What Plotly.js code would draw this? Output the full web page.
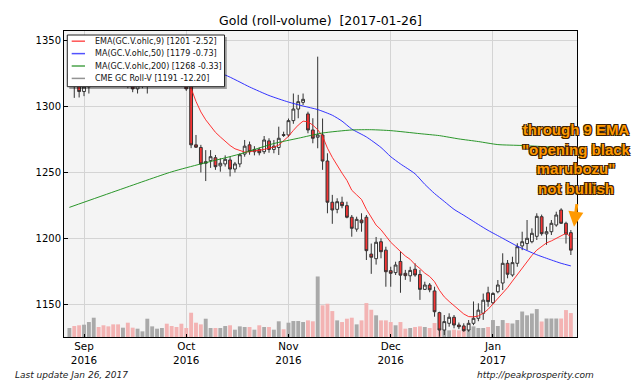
<!DOCTYPE html>
<html>
<head>
<meta charset="utf-8">
<script src="https://cdn.plot.ly/plotly-3.0.1.min.js"></script>
<style>html,body{margin:0;padding:0;background:#fff;}#chart{width:640px;height:384px;}</style>
</head>
<body>
<div id="chart"></div>
<script>
// ---- DATA ----
const dates = [
'2016-08-29','2016-08-30','2016-08-31',
'2016-09-01','2016-09-02','2016-09-06','2016-09-07','2016-09-08','2016-09-09','2016-09-12','2016-09-13','2016-09-14','2016-09-15','2016-09-16','2016-09-19','2016-09-20','2016-09-21','2016-09-22','2016-09-23','2016-09-26','2016-09-27','2016-09-28','2016-09-29','2016-09-30',
'2016-10-03','2016-10-04','2016-10-05','2016-10-06','2016-10-07','2016-10-10','2016-10-11','2016-10-12','2016-10-13','2016-10-14','2016-10-17','2016-10-18','2016-10-19','2016-10-20','2016-10-21','2016-10-24','2016-10-25','2016-10-26','2016-10-27','2016-10-28','2016-10-31',
'2016-11-01','2016-11-02','2016-11-03','2016-11-04','2016-11-07','2016-11-08','2016-11-09','2016-11-10','2016-11-11','2016-11-14','2016-11-15','2016-11-16','2016-11-17','2016-11-18','2016-11-21','2016-11-22','2016-11-23','2016-11-25','2016-11-28','2016-11-29','2016-11-30',
'2016-12-01','2016-12-02','2016-12-05','2016-12-06','2016-12-07','2016-12-08','2016-12-09','2016-12-12','2016-12-13','2016-12-14','2016-12-15','2016-12-16','2016-12-19','2016-12-20','2016-12-21','2016-12-22','2016-12-23','2016-12-27','2016-12-28','2016-12-29','2016-12-30',
'2017-01-03','2017-01-04','2017-01-05','2017-01-06','2017-01-09','2017-01-10','2017-01-11','2017-01-12','2017-01-13','2017-01-17','2017-01-18','2017-01-19','2017-01-20','2017-01-23','2017-01-24','2017-01-25','2017-01-26'
];
const open = [1321,1325,1316,1311.5,1315,1327,1349,1345,1338,1334,1328,1323,1327,1318,1313.5,1317,1319,1332,1338,1340,1341.5,1327,1322,1320,1317,
1315.5,1271,1269,1257,1259,1261.2,1255,1256.5,1259.5,1252.6,1256.5,1264,1271,1265.8,1267.5,1265.8,1274,1267.5,1269,1278.8,
1278.5,1289.4,1298.2,1303.3,1294.5,1282.3,1276.8,1278.5,1258.7,1227.4,1222,1227.4,1224.8,1216,1207,1213.9,1216,1188,1184.5,1197.4,1191,
1175.4,1173.9,1182.4,1173.4,1171.5,1176.5,1172.5,1161.2,1164.5,1160,1143.5,1130.3,1135.4,1140,1134.1,1133.4,1130.3,1135.4,1139.2,1143,1158.6,
1151,1159.4,1166,1181,1172.1,1181,1194.2,1196,1197.4,1201.5,1216.4,1203.3,1205,1210.1,1221.5,1211.4,1204.3];
const high = [1328,1327,1319,1318,1330,1352,1352,1348,1342,1337,1332,1330,1330,1322,1320,1322,1335,1345,1345,1344,1343,1330,1326,1324,1320,
1317,1278.5,1271,1267,1267,1263.3,1260.8,1263,1262,1258,1264.5,1274.7,1273.5,1270,1269,1277.7,1276,1274.7,1284.8,1281,
1291,1310,1309,1310,1296.2,1291.2,1338,1291,1264.6,1233,1230.4,1231.6,1227.8,1217.7,1216.4,1219,1217.7,1196,1201,1200,1193.6,
1178.4,1182.2,1190,1176,1178.4,1181,1176,1167,1166,1163.2,1144.2,1141.7,1143,1141.7,1136,1135.4,1137.9,1152,1150.6,1158,1163.2,
1159,1168.3,1188.6,1183.5,1186,1196.2,1205,1213.9,1207.6,1219,1218,1208.8,1213.9,1220.2,1222.8,1212.6,1206.3];
const low = [1318,1306.7,1307,1308,1310,1325,1340,1335,1330,1322,1320,1318,1314,1311,1310,1314,1310,1330,1336,1335,1325,1318,1318,1315,1312,
1268.5,1268.6,1250,1243.5,1253.5,1252,1250.6,1254.5,1247,1250,1254,1262,1263.5,1263,1263,1264,1265,1264.6,1263.3,1277,
1277,1287,1291.2,1301.3,1279.8,1272.2,1268.4,1252,1219,1211,1219,1222.8,1215.2,1201.2,1205,1205,1183.5,1173,1180,1184.8,1163.2,
1163.2,1172.1,1158.6,1168.4,1167,1170.8,1153.2,1160.7,1159,1140.4,1125.2,1126.5,1132.8,1131.6,1131,1129,1129,1134,1137,1138,1148,
1150,1158.2,1160.7,1169.6,1170.8,1178.4,1191,1191.1,1196.2,1198.7,1202,1195,1202.5,1208.8,1210.9,1196,1187.3];
const close = [1325,1316,1311.5,1315,1327,1349,1345,1338,1334,1328,1323,1327,1318,1313.5,1317,1319,1332,1338,1340,1341.5,1327,1322,1320,1317.5,1313.5,
1271,1269.2,1256.5,1258.2,1262,1254.4,1257,1260,1252.6,1256.5,1263.5,1270,1265.8,1267.5,1265,1274.7,1267.5,1270,1276,1278.2,
1289.4,1298.2,1303.8,1305.6,1282.3,1276,1278.5,1258.7,1227.4,1221.5,1227.8,1224.8,1216,1207.6,1214.4,1211.8,1190.6,1185.6,1197,1189.8,1174.6,
1173.4,1179.7,1172,1171.6,1175.6,1172.1,1161.2,1164.5,1160.9,1144.2,1130.3,1136.7,1140,1134.1,1132.8,1129.8,1135.4,1139.2,1145.4,1153,1151.9,
1158.1,1164.5,1181,1172.7,1181.5,1193.6,1197.4,1200,1203.8,1216.7,1203.5,1205,1211.4,1217.7,1211.4,1203.2,1191];
const volume = [135,165,176,185,225,290,150,176,160,190,190,140,215,140,125,85,275,160,125,135,200,165,150,200,135,
365,215,190,275,135,135,135,165,176,110,160,150,150,110,176,150,150,110,236,116,
215,240,240,225,250,236,910,476,500,390,250,225,275,290,190,250,510,410,326,250,250,
225,176,225,125,135,150,160,150,135,210,135,110,100,110,100,116,116,160,135,135,150,
255,165,255,210,203,255,383,326,353,420,233,278,278,278,278,405,360];
const ema9 = [1322,1321,1319,1318,1320,1326,1330,1331,1332,1331,1329,1329,1327,1324,1323,1322,1324,1327,1330,1332,1331,1329,1327,1325,1322,
1314,1304,1296,1290,1284.8,1280.5,1277,1273.5,1270.5,1268,1266.5,1265.5,1265.8,1266.3,1267,1267.5,1268.5,1269.3,1270.8,1274,
1277.5,1282,1286,1289,1288.5,1286,1282.5,1277.5,1268.5,1261.5,1255,1249.5,1244,1236.5,1233,1229.5,1222,1216.5,1210,1206.5,1201.5,
1197,1193.5,1190,1186.5,1184,1180,1177,1173.5,1171,1167,1160.5,1155.5,1152,1149,1146,1142.5,1140.5,1140.3,1141,1143,1146,
1150,1154,1158,1162.5,1167.5,1172.5,1177.5,1182.5,1187,1191,1194,1196.5,1198,1200,1202.3,1203.8,1201];
const ma50Dates = ['2016-08-29','2016-09-13','2016-09-27','2016-10-07','2016-10-13','2016-10-20','2016-10-26','2016-11-01','2016-11-04','2016-11-09','2016-11-14','2016-11-16','2016-11-18','2016-11-23','2016-11-29','2016-12-01','2016-12-05','2016-12-08','2016-12-12','2016-12-14','2016-12-16','2016-12-20','2016-12-22','2016-12-28','2016-12-30','2017-01-05','2017-01-10','2017-01-17','2017-01-20','2017-01-24','2017-01-26'];
const ma50 = [1334,1333,1330,1327,1324,1315,1308.5,1303.5,1300.5,1297.8,1293.5,1289,1283,1277,1269,1262,1256.5,1249,1241,1234,1228,1222,1217.5,1210.5,1206,1200,1194,1187.5,1183.5,1181,1179];
const ma200Dates = ['2016-08-29','2016-09-13','2016-09-28','2016-10-06','2016-10-18','2016-10-27','2016-11-03','2016-11-10','2016-11-18','2016-11-25','2016-12-01','2016-12-09','2016-12-15','2016-12-21','2016-12-28','2017-01-04','2017-01-11','2017-01-19','2017-01-26'];
const ma200 = [1223.5,1236.5,1250.5,1256.5,1264,1272,1276,1280,1282.3,1282.5,1281.8,1279.5,1278,1275.5,1273.5,1271.2,1270.5,1269.5,1268];
const tickDates = ['2016-09-01','2016-10-03','2016-11-01','2016-12-01','2017-01-03'];
const tickLabels = ['Sep<br>2016','Oct<br>2016','Nov<br>2016','Dec<br>2016','Jan<br>2017'];
const priceTicks = [1150,1200,1250,1300,1350];
const legendLabels = ['EMA(GC.V.ohlc,9) [1201 -2.52]','MA(GC.V.ohlc,50) [1179 -0.73]','MA(GC.V.ohlc,200) [1268 -0.33]','CME GC Roll-V [1191 -12.20]'];
const legendColors = ['rgba(255,40,40,0.8)','rgba(40,40,255,0.8)','rgba(30,140,30,0.8)','rgba(120,120,120,0.8)'];

// ---- CHART ----
const volColors = close.map((c,i)=> c >= open[i] ? '#a9a9a9' : '#f3b3b3');

const traces = [
  {type:'bar', x:dates, y:volume, yaxis:'y', marker:{color:volColors, line:{width:0}}, hoverinfo:'skip', showlegend:false},
  {type:'candlestick', x:dates, open:open, high:high, low:low, close:close, xaxis:'x', yaxis:'y2',
   line:{width:1}, whiskerwidth:0,
   increasing:{line:{color:'#333333', width:1}, fillcolor:'#ffffff'},
   decreasing:{line:{color:'#333333', width:1}, fillcolor:'#f53434'},
   hoverinfo:'skip', showlegend:false},
  {type:'scatter', mode:'lines', x:dates, y:ema9, yaxis:'y2', line:{color:'rgba(255,30,30,0.9)', width:1}, hoverinfo:'skip', showlegend:false},
  {type:'scatter', mode:'lines', x:ma50Dates, y:ma50, yaxis:'y2', line:{color:'rgba(30,30,255,0.9)', width:1, shape:'spline', smoothing:0.6}, hoverinfo:'skip', showlegend:false},
  {type:'scatter', mode:'lines', x:ma200Dates, y:ma200, yaxis:'y2', line:{color:'rgba(20,140,20,0.9)', width:1, shape:'spline', smoothing:0.6}, hoverinfo:'skip', showlegend:false}
];

// legend geometry (paper coords)
const rowsY = [0.9667,0.9261,0.8856,0.8451];
const shapes = [
  {type:'rect', xref:'paper', yref:'paper', x0:0.0103, x1:0.3174, y0:0.8105, y1:0.9804, fillcolor:'rgba(0,0,0,0.35)', line:{width:0}, layer:'above'},
  {type:'rect', xref:'paper', yref:'paper', x0:0.0064, x1:0.3129, y0:0.8180, y1:0.9869, fillcolor:'#ffffff', line:{color:'#222', width:1}, layer:'above'}
];
const annotations = [];
legendLabels.forEach((t,i)=>{
  shapes.push({type:'line', xref:'paper', yref:'paper', x0:0.0150, x1:0.0409, y0:rowsY[i], y1:rowsY[i], line:{color:legendColors[i], width:1.5}, layer:'above'});
  annotations.push({xref:'paper', yref:'paper', x:0.0556, y:rowsY[i], xanchor:'left', yanchor:'middle', text:t, showarrow:false,
    font:{family:'DejaVu Sans', size:8, color:'#111'}});
});
annotations.push({xref:'paper', yref:'paper', x:-0.0994, y:-0.1252, xanchor:'left', yanchor:'middle', showarrow:false,
  text:'Last update Jan 26, 2017', font:{family:'DejaVu Sans', size:9, style:'italic', color:'#222'}});
annotations.push({xref:'paper', yref:'paper', x:1.0361, y:-0.1252, xanchor:'right', yanchor:'middle', showarrow:false,
  text:'http://peakprosperity.com', font:{family:'DejaVu Sans', size:9, style:'italic', color:'#222'}});
annotations.push({xref:'paper', yref:'paper', x:0.9981, y:0.5817, xanchor:'center', yanchor:'middle', showarrow:false, align:'center',
  text:'through 9 EMA<br>"opening black<br>marubozu"<br>not bullish',
  font:{family:'Liberation Sans', size:15, weight:'bold', color:'#ff9900',
        shadow:'-1px -1px 0 #3a2000, 1px -1px 0 #3a2000, -1px 1px 0 #3a2000, 1px 1px 0 #3a2000'}});
annotations.push({xref:'paper', yref:'paper', x:0.9942, y:0.3605, axref:'pixel', ayref:'pixel', ax:3, ay:-24, text:'', showarrow:true,
  arrowhead:2, arrowsize:1, arrowwidth:3, arrowcolor:'#ff9900'});

const layout = {
  width:640, height:384,
  margin:{l:64, r:63, t:31, b:47, pad:0},
  paper_bgcolor:'#ffffff', plot_bgcolor:'#f4f4f4',
  font:{family:'DejaVu Sans', size:10.4, color:'#000'},
  title:{text:'Gold (roll-volume)\u00a0\u00a0[2017-01-26]', font:{family:'DejaVu Sans', size:12.5, color:'#000'},
         x:0.5, xref:'paper', xanchor:'center', y:0.945, yref:'container', yanchor:'middle'},
  showlegend:false,
  bargap:0.2, boxgap:0.18,
  xaxis:{type:'category', range:[-1.11,104.26], tickmode:'array', tickvals:tickDates, ticktext:tickLabels,
         showgrid:true, gridcolor:'#d4d4d4', gridwidth:1, showline:true, linecolor:'#000', linewidth:1, mirror:true,
         ticks:'inside', ticklen:3, tickcolor:'#000', tickfont:{size:10.4}, rangeslider:{visible:false}, fixedrange:true, zeroline:false},
  yaxis:{range:[0,4600], visible:false, fixedrange:true},
  yaxis2:{overlaying:'y', side:'left', range:[1125,1357.5], tickmode:'array', tickvals:priceTicks,
          showgrid:true, gridcolor:'#d4d4d4', gridwidth:1, showline:true, linecolor:'#000', linewidth:1, mirror:true,
          ticks:'inside', ticklen:4, tickcolor:'#000', tickfont:{size:10}, zeroline:false, fixedrange:true},
  shapes:shapes,
  annotations:annotations
};

Plotly.newPlot('chart', traces, layout, {displayModeBar:false, staticPlot:true});
</script>
</body>
</html>
